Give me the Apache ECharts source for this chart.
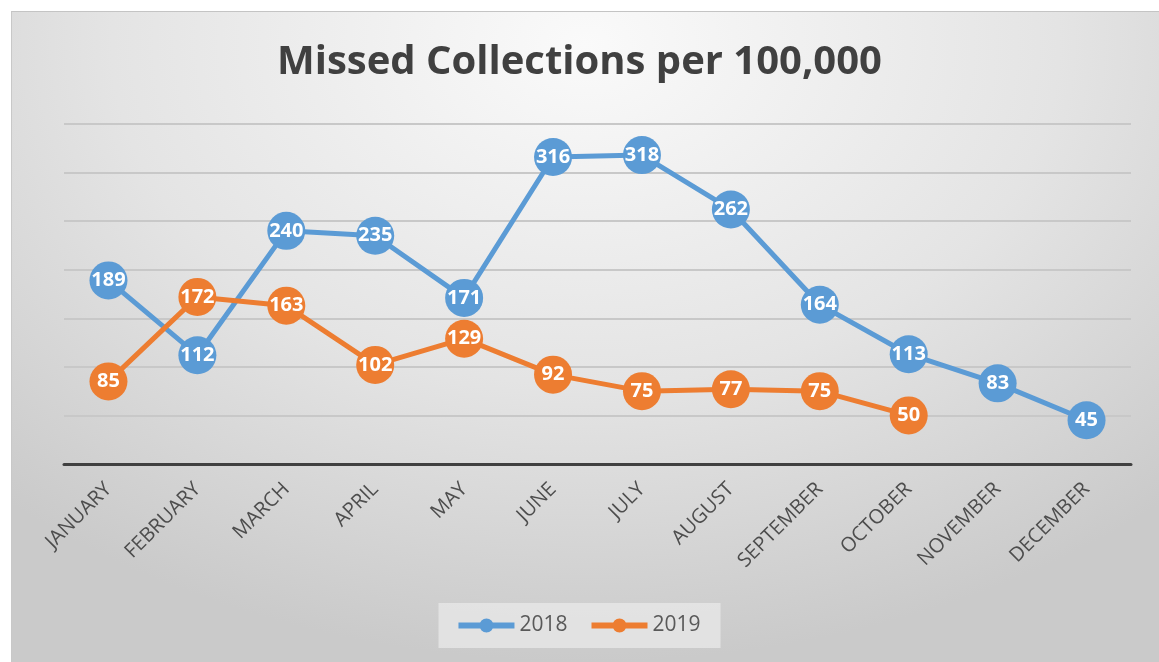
<!DOCTYPE html>
<html>
<head>
<meta charset="utf-8">
<script src="https://cdn.jsdelivr.net/npm/echarts@6/dist/echarts.min.js"></script>
<style>
  html, body { margin:0; padding:0; background:#fff; }
  #bg { position:absolute; left:11px; top:11px; width:1148px; height:651px;
        border-top:1px solid #c4c4c4; border-left:1px solid #c8c8c8; box-sizing:border-box;
        background: radial-gradient(ellipse 75% 95% at 50% 5%, #fafafa 0%, #e4e4e4 55%, #cacaca 100%); }
  #chart { position:absolute; left:0; top:0; width:1159px; height:662px; }
</style>
</head>
<body>
<div id="bg"></div>
<div id="chart"></div>
<script>
// === Datos ===
const months = ['JANUARY','FEBRUARY','MARCH','APRIL','MAY','JUNE','JULY','AUGUST','SEPTEMBER','OCTOBER','NOVEMBER','DECEMBER'];
const y2018 = [189, 112, 240, 235, 171, 316, 318, 262, 164, 113, 83, 45];
const y2019 = [85, 172, 163, 102, 129, 92, 75, 77, 75, 50, null, null];

// === Paleta ===
const blue = '#5b9bd5', orange = '#ed7d31', txt = '#595959';
const font = '"Open Sans", "Liberation Sans", sans-serif';

// icono de leyenda: línea gruesa con punto al centro
const legendIcon = 'path://M0,4H56V10H0Z M21,7A7,7 0 1,1 35,7A7,7 0 1,1 21,7Z';

const ptLabel = { show:true, position:'inside', color:'#fff', fontSize:20, fontWeight:'bold', fontFamily:font };

function serie(name, data, color){
  return {
    name, type:'line', data, symbol:'circle', symbolSize:38, connectNulls:false,
    lineStyle:{ width:5, color }, itemStyle:{ color }, label: ptLabel,
    emphasis:{ disabled:true }
  };
}

const chart = echarts.init(document.getElementById('chart'));
chart.setOption({
  backgroundColor:'transparent',
  animation:false,
  title:{ text:'Missed Collections per 100,000', left:'center', top:38,
    textStyle:{ color:'#404040', fontSize:40, fontWeight:'bold', fontFamily:font } },
  legend:{ bottom:14, left:'center', icon:legendIcon, itemWidth:56, itemHeight:14, itemGap:24,
    backgroundColor:'rgba(235,235,235,0.7)', padding:[12,20,12,20],
    textStyle:{ color:txt, fontSize:21, fontFamily:font } },
  grid:{ left:64, right:28, top:124, bottom:198 },
  xAxis:{ type:'category', data:months, boundaryGap:true,
    axisLine:{ lineStyle:{ color:'#404040', width:3 } }, axisTick:{ show:false },
    axisLabel:{ rotate:45, color:'#4d4d4d', fontSize:20, fontFamily:font, margin:22, interval:0 } },
  yAxis:{ type:'value', min:0, max:350, interval:50,
    axisLabel:{ show:false }, axisLine:{ show:false }, axisTick:{ show:false },
    splitLine:{ lineStyle:{ color:'#c8c8c8', width:2 } } },
  series:[ serie('2018', y2018, blue), serie('2019', y2019, orange) ]
});
</script>
</body>
</html>
